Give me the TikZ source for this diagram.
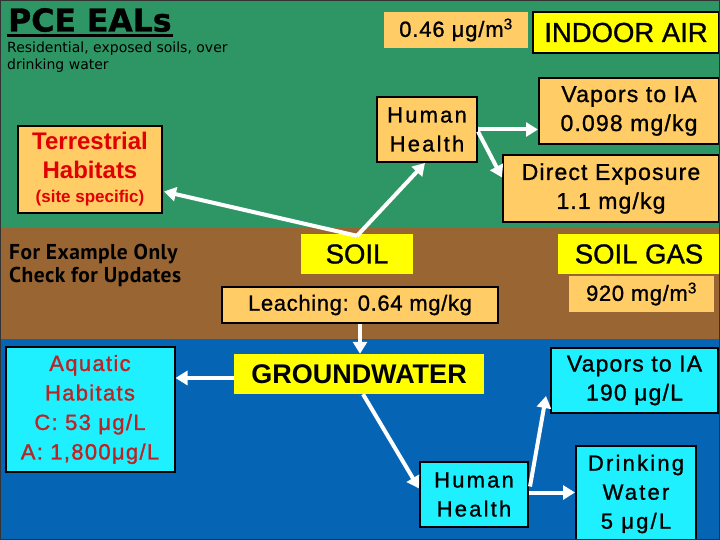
\documentclass[tikz,border=0pt]{standalone}
\usepackage{fontspec}
\setmainfont{Liberation Sans}
\newfontfamily\titlefont{DejaVu Sans}
\newfontfamily\notefont{PT Sans}
\usetikzlibrary{arrows.meta,calc}
\definecolor{bggreen}{RGB}{46,150,100}
\definecolor{bgbrown}{RGB}{153,102,51}
\definecolor{bgblue}{RGB}{5,100,180}
\definecolor{orangefill}{RGB}{255,204,102}
\definecolor{cyanfill}{RGB}{30,240,255}
\definecolor{yellowfill}{RGB}{255,255,0}
\definecolor{termred}{RGB}{225,0,0}
\definecolor{aqred}{RGB}{190,35,35}
\tikzset{
  boxbase/.style={inner sep=0pt, align=center, font={\fontsize{23}{29}\selectfont\addfontfeature{LetterSpace=5,FakeBold=1}}},
  obox/.style={boxbase, draw=black, line width=2pt, fill=orangefill},
  oplain/.style={boxbase, fill=orangefill},
  cbox/.style={boxbase, draw=black, line width=2pt, fill=cyanfill},
  ylabel/.style={inner sep=0pt, align=center, fill=yellowfill, font={\fontsize{27.5}{30}\selectfont\addfontfeature{FakeBold=1}}},
  wide/.style={font={\fontsize{22}{29}\selectfont\addfontfeature{LetterSpace=10,FakeBold=1}}},
  arr/.style={draw=white, line width=4pt, -{Triangle[length=12pt,width=14pt]}}
}
\begin{document}
\begin{tikzpicture}[x=1pt,y=-1pt]
\useasboundingbox (0,0) rectangle (720,540);
% background bands
\fill[bggreen] (0,0) rectangle (720,228);
\fill[bgbrown] (0,228) rectangle (720,339);
\fill[bgblue] (0,339) rectangle (720,540);

% title
\node[anchor=base west, inner sep=0pt, font={\titlefont\bfseries\fontsize{31.5}{34}\selectfont\addfontfeature{FakeBold=1}}] (title) at (8,31.5) {PCE EALs};
\draw[line width=3pt] (title.base west) ++(-1,4) coordinate (ul1) -- ($(title.base east)+(1,4)$) coordinate (ul2);
\node[anchor=north west, inner sep=0pt, align=left, font={\titlefont\fontsize{14}{17}\selectfont}] (sub) at (7,42) {Residential, exposed soils, over\\drinking water};

% note
\node[anchor=north west, inner sep=0pt, align=left, font={\notefont\bfseries\fontsize{21.5}{23}\selectfont\addfontfeature{LetterSpace=2}}] (note) at (9,244) {For Example Only\\Check for Updates};

% top region
\node[oplain, minimum width=144pt, minimum height=36pt, font={\fontsize{22}{26}\selectfont\addfontfeature{LetterSpace=4,FakeBold=1}}] (c046) at (456,30) {0.46 μg/m\textsuperscript{3}};
\node[ylabel, draw=black, line width=2pt, minimum width=186pt, minimum height=41pt] (ia) at (626,32.5) {INDOOR AIR};
\node[obox, wide, minimum width=100pt, minimum height=65pt] (hhT) at (427,129.5) {Human\\Health};
\node[obox, minimum width=180pt, minimum height=66pt] (vapT) at (629,111) {Vapors to IA\\0.098 mg/kg};
\node[obox, minimum width=216pt, minimum height=67pt] (dirT) at (611,188.5) {Direct Exposure\\1.1 mg/kg};
\node[obox, minimum width=144pt, minimum height=87pt, text=termred, font={\bfseries\fontsize{24}{28.5}\selectfont}] (terr) at (90,169.5) {Terrestrial\\Habitats\\[-4pt]{\fontsize{17}{20}\selectfont(site specific)}};

% soil region
\node[ylabel, minimum width=112pt, minimum height=40pt] (soil) at (357,254) {SOIL};
\node[ylabel, minimum width=162pt, minimum height=40pt] (soilgas) at (639,254) {SOIL GAS};
\node[oplain, minimum width=145pt, minimum height=36pt, font={\fontsize{22}{26}\selectfont\addfontfeature{LetterSpace=3,FakeBold=1}}] (c920) at (641.5,294) {920 mg/m\textsuperscript{3}};
\node[obox, minimum width=276pt, minimum height=36pt, font={\fontsize{22}{26}\selectfont\addfontfeature{LetterSpace=3,FakeBold=1}}] (leach) at (360,305) {Leaching: 0.64 mg/kg};

% groundwater region
\node[ylabel, minimum width=250pt, minimum height=40pt, font={\bfseries\fontsize{27}{30}\selectfont}] (gw) at (359,374) {GROUNDWATER};
\node[cbox, minimum width=169pt, minimum height=125pt, text=aqred, font={\fontsize{22}{29.5}\selectfont\addfontfeature{LetterSpace=6,FakeBold=1.2}}] (aq) at (90,409.5) {Aquatic\\Habitats\\C: 53 μg/L\\A: 1,800μg/L};
\node[cbox, wide, minimum width=108pt, minimum height=65pt] (hhB) at (474,494.5) {Human\\Health};
\node[cbox, minimum width=167pt, minimum height=65pt] (vapB) at (634.5,380.5) {Vapors to IA\\190 μg/L};
\node[cbox, wide, minimum width=120pt, minimum height=96pt] (drink) at (636,494) {Drinking\\Water\\5 μg/L};

% connectors
\draw[arr] (hhT.east) -- (hhT.east -| vapT.west);
\draw[arr] ($(hhT.east)+(0,2)$) -- ($(dirT.west)+(0,-11)$);
\draw[arr] ($(soil.north)+(0,2)$) -- ($(hhT.south)+(-2,0)$);
\draw[arr] ($(soil.north)+(0,2)$) -- ($(terr.east)+(1,22)$);
\draw[arr] (leach.south) -- (leach.south |- gw.north);
\draw[arr] ($(gw.west)+(0,4)$) -- ($(gw.west -| aq.east)+(0,4)$);
\draw[arr] ($(gw.south)+(4,0)$) -- ($(hhB.west)+(0,-6)$);
\draw[arr] ($(hhB.east)+(1,-8)$) -- ($(vapB.south west)+(-4,-18)$);
\draw[arr] ($(hhB.east)+(0,-2)$) -- ($(hhB.east -| drink.west)+(0,-2)$);

% frame
\draw[black!80, line width=2pt] (0,0) rectangle (720,540);
\end{tikzpicture}
\end{document}
